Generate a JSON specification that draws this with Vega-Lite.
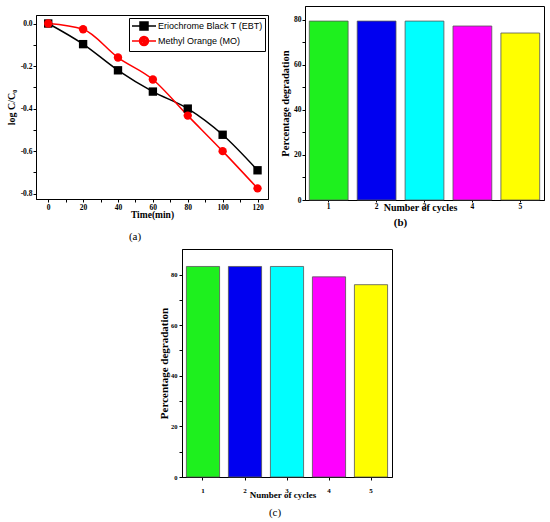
{
  "$schema": "https://vega.github.io/schema/vega-lite/v6.json",
  "padding": {"left": 5, "top": 5, "right": 0, "bottom": 0},
  "background": "white",
  "datasets": {
    "kinetics": [
      {"time": 0, "value": 0, "series": "Eriochrome Black T (EBT)"},
      {"time": 20, "value": -0.097, "series": "Eriochrome Black T (EBT)"},
      {"time": 40, "value": -0.22, "series": "Eriochrome Black T (EBT)"},
      {"time": 60, "value": -0.32, "series": "Eriochrome Black T (EBT)"},
      {"time": 80, "value": -0.4, "series": "Eriochrome Black T (EBT)"},
      {"time": 100, "value": -0.523, "series": "Eriochrome Black T (EBT)"},
      {"time": 120, "value": -0.69, "series": "Eriochrome Black T (EBT)"},
      {"time": 0, "value": 0, "series": "Methyl Orange (MO)"},
      {"time": 20, "value": -0.027, "series": "Methyl Orange (MO)"},
      {"time": 40, "value": -0.16, "series": "Methyl Orange (MO)"},
      {"time": 60, "value": -0.263, "series": "Methyl Orange (MO)"},
      {"time": 80, "value": -0.433, "series": "Methyl Orange (MO)"},
      {"time": 100, "value": -0.6, "series": "Methyl Orange (MO)"},
      {"time": 120, "value": -0.775, "series": "Methyl Orange (MO)"}
    ],
    "cyclesB": [
      {"cycle": "1", "degradation": 79.5},
      {"cycle": "2", "degradation": 79.5},
      {"cycle": "3", "degradation": 79.5},
      {"cycle": "4", "degradation": 77.3},
      {"cycle": "5", "degradation": 74.2}
    ],
    "cyclesC": [
      {"cycle": "1", "degradation": 83.2},
      {"cycle": "2", "degradation": 83.2},
      {"cycle": "3", "degradation": 83.2},
      {"cycle": "4", "degradation": 79.1},
      {"cycle": "5", "degradation": 76.0}
    ],
    "blank": []
  },
  "config": {
    "font": "Liberation Serif",
    "view": {"stroke": "black", "strokeWidth": 1},
    "axis": {
      "grid": false,
      "domainColor": "black",
      "tickColor": "black",
      "labelColor": "black",
      "titleColor": "black",
      "labelFont": "Liberation Serif",
      "titleFont": "Liberation Serif",
      "labelFontWeight": "bold",
      "titleFontWeight": "bold",
      "labelFontSize": 7.5,
      "labelOverlap": false,
      "tickSize": 3
    },
    "title": {"font": "Liberation Serif", "fontSize": 11, "fontWeight": "normal", "color": "black"}
  },
  "resolve": {"scale": {"color": "independent", "shape": "independent"}},
  "spacing": 5,
  "vconcat": [
    {
      "spacing": 11,
      "align": "none",
      "resolve": {"scale": {"color": "independent", "shape": "independent"}},
      "hconcat": [
        {
          "spacing": 7,
          "vconcat": [
            {
              "width": 232,
              "height": 1,
              "data": {"name": "blank"},
              "mark": {"type": "point"},
              "encoding": {},
              "view": {"stroke": null}
            },
            {
              "width": 232,
              "height": 184,
              "title": {"text": "(a)", "orient": "bottom", "dx": -17, "offset": 12},
              "layer": [
                {
                  "data": {"name": "kinetics"},
                  "encoding": {
                    "x": {
                      "field": "time",
                      "type": "quantitative",
                      "scale": {"domain": [-7, 126], "nice": false, "zero": false},
                      "axis": {
                        "values": [0, 10, 20, 30, 40, 50, 60, 70, 80, 90, 100, 110, 120],
                        "labelExpr": "datum.value % 20 == 0 ? datum.label : ''",
                        "labelOverlap": false,
                        "title": "Time(min)",
                        "titleFontSize": 9.5,
                        "titlePadding": -1,
                        "labelPadding": 1
                      }
                    },
                    "y": {
                      "field": "value",
                      "type": "quantitative",
                      "scale": {"domain": [-0.825, 0.04], "nice": false, "zero": false},
                      "axis": {
                        "values": [0, -0.1, -0.2, -0.3, -0.4, -0.5, -0.6, -0.7, -0.8],
                        "format": ".1f",
                        "labelExpr": "abs(round(datum.value * 10)) % 2 == 0 ? replace(datum.label, '\u2212', '-') : ''",
                        "labelOverlap": false,
                        "title": "log C/C₀",
                        "titleFontSize": 10,
                        "titlePadding": 4,
                        "labelPadding": 1
                      }
                    },
                    "color": {
                      "field": "series",
                      "type": "nominal",
                      "scale": {"domain": ["Eriochrome Black T (EBT)", "Methyl Orange (MO)"], "range": ["#000000", "#ff0000"]},
                      "legend": null
                    }
                  },
                  "layer": [
                    {"mark": {"type": "line", "interpolate": "monotone", "strokeWidth": 1.5}},
                    {
                      "mark": {"type": "point", "filled": true, "opacity": 1, "size": 70},
                      "encoding": {
                        "shape": {
                          "field": "series",
                          "type": "nominal",
                          "scale": {"domain": ["Eriochrome Black T (EBT)", "Methyl Orange (MO)"], "range": ["square", "circle"]},
                          "legend": null
                        }
                      }
                    }
                  ]
                },
                {
                  "data": {"name": "kinetics"},
                  "mark": {"type": "point", "filled": false, "opacity": 0, "strokeWidth": 1.5},
                  "encoding": {
                    "x": {
                      "field": "time",
                      "type": "quantitative",
                      "axis": {
                        "values": [0, 10, 20, 30, 40, 50, 60, 70, 80, 90, 100, 110, 120],
                        "labelExpr": "datum.value % 20 == 0 ? datum.label : ''",
                        "labelOverlap": false,
                        "title": "Time(min)",
                        "titleFontSize": 9.5,
                        "titlePadding": -1,
                        "labelPadding": 1
                      }
                    },
                    "y": {
                      "field": "value",
                      "type": "quantitative",
                      "axis": {
                        "values": [0, -0.1, -0.2, -0.3, -0.4, -0.5, -0.6, -0.7, -0.8],
                        "format": ".1f",
                        "labelExpr": "abs(round(datum.value * 10)) % 2 == 0 ? replace(datum.label, '\u2212', '-') : ''",
                        "labelOverlap": false,
                        "title": "log C/C₀",
                        "titleFontSize": 10,
                        "titlePadding": 4,
                        "labelPadding": 1
                      }
                    },
                    "color": {
                      "field": "series",
                      "type": "nominal",
                      "scale": {"domain": ["Eriochrome Black T (EBT)", "Methyl Orange (MO)"], "range": ["#000000", "#ff0000"]},
                      "legend": {
                        "title": null,
                        "orient": "none",
                        "legendX": 93,
                        "legendY": 3,
                        "strokeColor": "black",
                        "fillColor": "white",
                        "padding": 2,
                        "rowPadding": 0,
                        "labelFont": "Liberation Sans",
                        "labelFontSize": 9,
                        "labelColor": "black",
                        "labelOffset": 15,
                        "symbolSize": 100,
                        "symbolStrokeWidth": 1.5,
                        "symbolOpacity": 1
                      }
                    },
                    "shape": {
                      "field": "series",
                      "type": "nominal",
                      "scale": {
                        "domain": ["Eriochrome Black T (EBT)", "Methyl Orange (MO)"],
                        "range": [
                          "M-1,0H3.8M0.6,-0.8H2.2V0.8H0.6ZM0.9,-0.5H1.9V0.5H0.9ZM1.2,-0.2H1.6V0.2H1.2Z",
                          "M0.5,0A0.9,0.9,0,1,0,2.3,0A0.9,0.9,0,1,0,0.5,0ZM0.8,0A0.6,0.6,0,1,0,2,0A0.6,0.6,0,1,0,0.8,0ZM1.1,0A0.3,0.3,0,1,0,1.7,0A0.3,0.3,0,1,0,1.1,0ZM1.35,0A0.05,0.05,0,1,0,1.45,0A0.05,0.05,0,1,0,1.35,0ZM-1,0H3.8"
                        ]
                      },
                      "legend": {
                        "title": null,
                        "orient": "none",
                        "legendX": 93,
                        "legendY": 3,
                        "strokeColor": "black",
                        "fillColor": "white",
                        "padding": 2,
                        "rowPadding": 0,
                        "labelFont": "Liberation Sans",
                        "labelFontSize": 9,
                        "labelColor": "black",
                        "labelOffset": 15,
                        "symbolSize": 100,
                        "symbolStrokeWidth": 1.5,
                        "symbolOpacity": 1
                      }
                    }
                  }
                }
              ],
              "resolve": {"scale": {"shape": "independent", "color": "independent"}}
            }
          ]
        },
        {
          "width": 239,
          "height": 194,
          "title": {"text": "(b)", "orient": "bottom", "dx": -24, "offset": 5, "fontWeight": "bold"},
          "data": {"name": "cyclesB"},
          "mark": {"type": "bar", "stroke": "#555555", "strokeWidth": 0.8},
          "encoding": {
            "x": {
              "field": "cycle",
              "type": "ordinal",
              "scale": {"paddingInner": 0.19, "paddingOuter": 0.09},
              "axis": {
                "labelAngle": 0,
                "title": "Number of cycles",
                "titleFontSize": 10,
                "titleBaseline": "middle",
                "titleX": 115,
                "titleY": 7,
                "labelPadding": 0,
                "tickSize": 2
              }
            },
            "y": {
              "field": "degradation",
              "type": "quantitative",
              "scale": {"domain": [0, 86.2], "nice": false},
              "axis": {
                "values": [0, 10, 20, 30, 40, 50, 60, 70, 80],
                "labelExpr": "datum.value % 20 == 0 ? datum.label : ''",
                "labelOverlap": false,
                "title": "Percentage degradation",
                "titleFontSize": 10.5,
                "titlePadding": 3,
                "labelPadding": 1
              }
            },
            "color": {
              "field": "cycle",
              "type": "nominal",
              "scale": {"domain": ["1", "2", "3", "4", "5"], "range": ["#1ef01e", "#0000f0", "#00ffff", "#ff00ff", "#ffff00"]},
              "legend": null
            }
          }
        }
      ]
    },
    {
      "spacing": 0,
      "align": "none",
      "hconcat": [
        {
          "width": 122,
          "height": 1,
          "data": {"name": "blank"},
          "mark": {"type": "point"},
          "encoding": {},
          "view": {"stroke": null}
        },
        {
          "width": 210,
          "height": 228,
          "title": {"text": "(c)", "orient": "bottom", "dx": -12, "offset": 8},
          "data": {"name": "cyclesC"},
          "mark": {"type": "bar", "stroke": "#555555", "strokeWidth": 0.8},
          "encoding": {
            "x": {
              "field": "cycle",
              "type": "ordinal",
              "scale": {"paddingInner": 0.21, "paddingOuter": 0.105},
              "axis": {
                "labelAngle": 0,
                "labelFontSize": 7,
                "title": "Number of cycles",
                "titleFontSize": 9,
                "titleBaseline": "middle",
                "titleX": 100.5,
                "titleY": 17,
                "labelPadding": 6,
                "tickSize": 3
              }
            },
            "y": {
              "field": "degradation",
              "type": "quantitative",
              "scale": {"domain": [0, 90.1], "nice": false},
              "axis": {
                "values": [0, 10, 20, 30, 40, 50, 60, 70, 80],
                "labelExpr": "datum.value % 20 == 0 ? datum.label : ''",
                "labelOverlap": false,
                "labelFontSize": 6.5,
                "title": "Percentage degradation",
                "titleFontSize": 11,
                "titlePadding": 1,
                "labelPadding": 2
              }
            },
            "color": {
              "field": "cycle",
              "type": "nominal",
              "scale": {"domain": ["1", "2", "3", "4", "5"], "range": ["#1ef01e", "#0000f0", "#00ffff", "#ff00ff", "#ffff00"]},
              "legend": null
            }
          }
        }
      ]
    }
  ]
}
